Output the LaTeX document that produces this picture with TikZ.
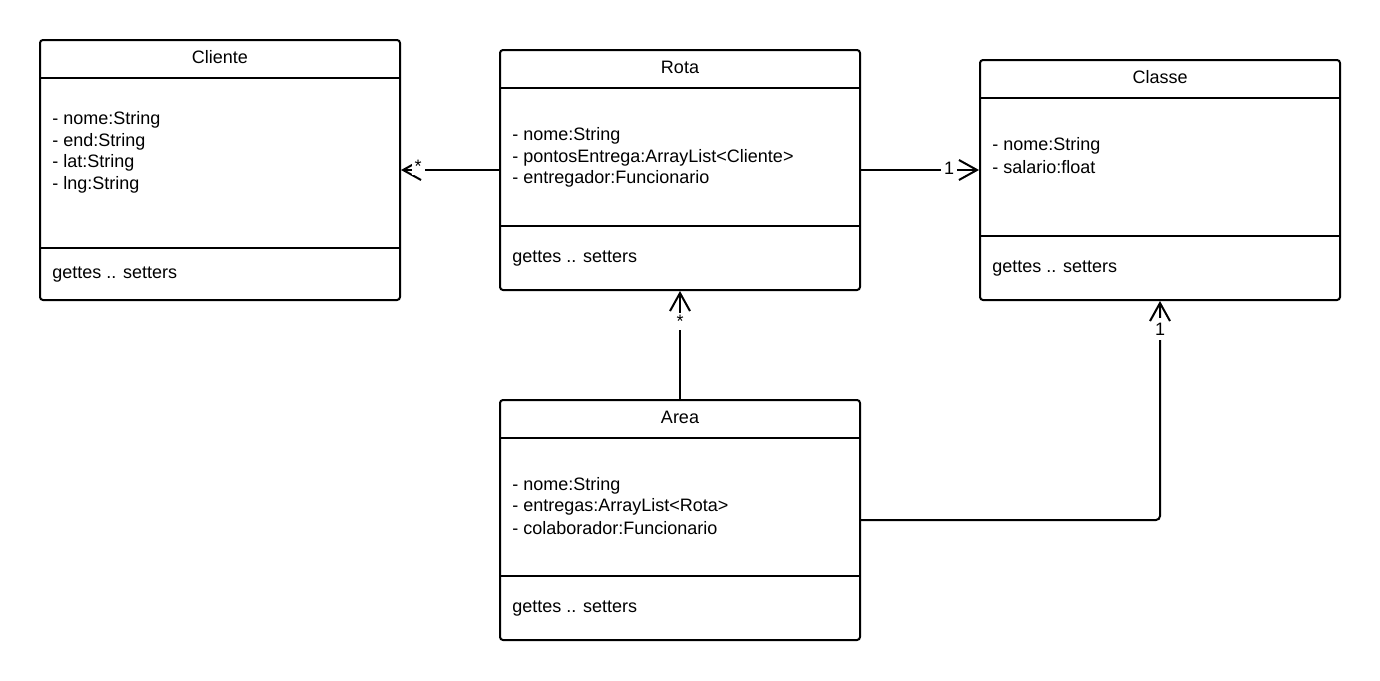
\documentclass[tikz,border=0pt]{standalone}
\usepackage{fontspec}
\setmainfont{Liberation Sans}
\usetikzlibrary{arrows.meta}
\begin{document}
\begin{tikzpicture}[x=0.5pt,y=-0.5pt,
  classbox/.style={draw,line width=1pt,rounded corners=1.5pt,minimum width=180pt,inner sep=0pt},
  sep/.style={line width=1pt},
  txt/.style={anchor=west,font=\fontsize{9}{10}\selectfont,inner sep=0pt,yshift=-1.2pt},
  ttl/.style={font=\fontsize{9}{10}\selectfont,inner sep=0pt},
  assoc/.style={line width=1pt,-{Straight Barb[length=9pt,width=10pt,line width=1pt]}},
  mult/.style={fill=white,font=\fontsize{9}{10}\selectfont,inner sep=1.5pt},
  vmult/.style={fill=white,font=\fontsize{9}{10}\selectfont,inner xsep=0.5pt,inner ysep=0pt,minimum width=0pt}]
\fill[white] (0,0) rectangle (1380,680);
\path[use as bounding box] (0,0) rectangle (1380,680);

% class boxes
\node[classbox,minimum height=130pt] (cliente) at (220,170) {};
\node[classbox,minimum height=120pt] (rota) at (680,170) {};
\node[classbox,minimum height=120pt] (classe) at (1160,180) {};
\node[classbox,minimum height=120pt] (area) at (680,520) {};

% compartment separators
\draw[sep] (40,78) -- (400,78);
\draw[sep] (40,248) -- (400,248);
\draw[sep] (500,88) -- (860,88);
\draw[sep] (500,226) -- (860,226);
\draw[sep] (980,98) -- (1340,98);
\draw[sep] (980,236) -- (1340,236);
\draw[sep] (500,438) -- (860,438);
\draw[sep] (500,576) -- (860,576);

% Cliente
\node[ttl] (clienteT) at (220,57) {Cliente};
\node[txt] (c1) at (52,117) {- nome:String};
\node[txt] (c2) at (52,139) {- end:String};
\node[txt] (c3) at (52,160) {- lat:String};
\node[txt] (c4) at (52,182) {- lng:String};
\node[txt] (c5) at (52,272) {gettes .. setters};

% Rota
\node[ttl] (rotaT) at (680,67) {Rota};
\node[txt] (r1) at (512,133) {- nome:String};
\node[txt] (r2) at (512,155) {- pontosEntrega:ArrayList<Cliente>};
\node[txt] (r3) at (512,176) {- entregador:Funcionario};
\node[txt] (r4) at (512,256) {gettes .. setters};

% Classe
\node[ttl] (classeT) at (1160,77) {Classe};
\node[txt] (k1) at (992,143) {- nome:String};
\node[txt] (k2) at (992,165) {- salario:float};
\node[txt] (k3) at (992,266) {gettes .. setters};

% Area
\node[ttl] (areaT) at (680,417) {Area};
\node[txt] (a1) at (512,483) {- nome:String};
\node[txt] (a2) at (512,504) {- entregas:ArrayList<Rota>};
\node[txt] (a3) at (512,526) {- colaborador:Funcionario};
\node[txt] (a4) at (512,606) {gettes .. setters};

% associations
\draw[assoc] (rota.west) -- (cliente.east);
\node[mult] (m1) at (418,166) {*};
\draw[assoc] (rota.east) -- (rota.east -| classe.west);
\node[mult] (m2) at (949,168) {1};
\draw[assoc] (area.north) -- (rota.south);
\node[vmult,minimum height=8.5pt] (m3) at (680,321.5) {*};
\draw[assoc,rounded corners=2pt] (area.east) -| (classe.south);
\node[vmult,minimum height=11pt] (m4) at (1160,329) {1};
\end{tikzpicture}
\end{document}
